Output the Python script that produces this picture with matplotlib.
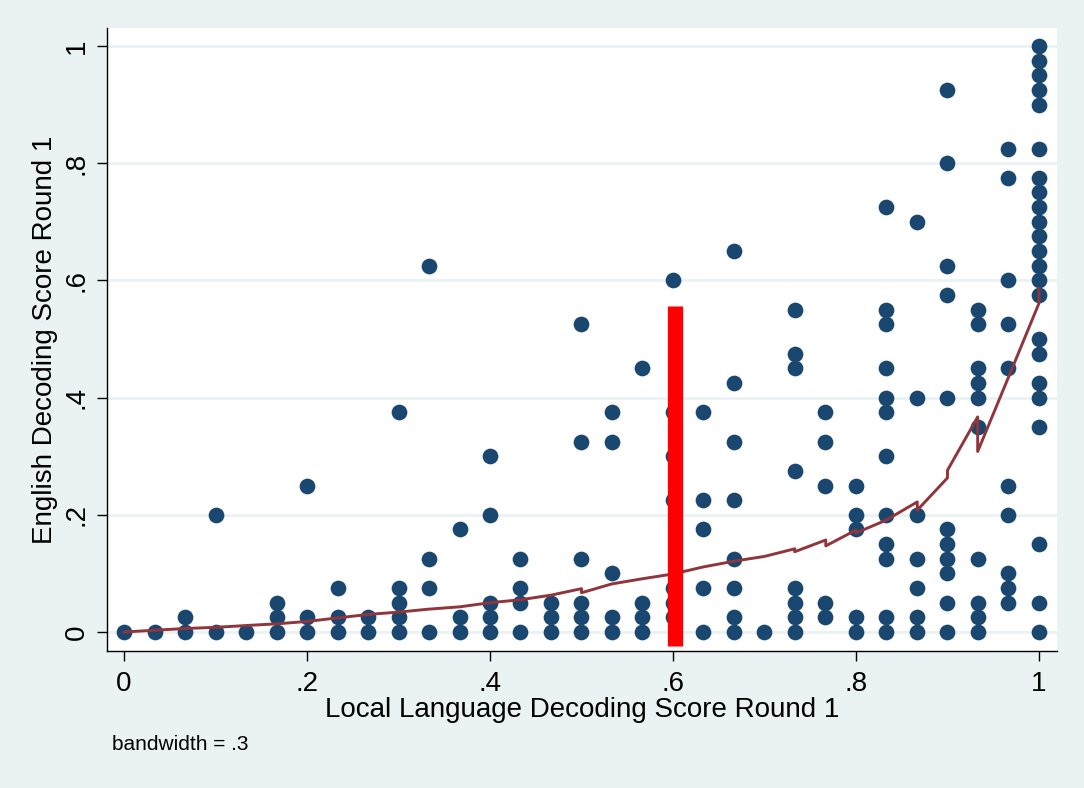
import matplotlib
matplotlib.use("Agg")
import matplotlib.pyplot as plt

plt.rcParams['font.family'] = ['Liberation Sans', 'DejaVu Sans']

# local language score steps (in 30ths) and english scores (in 40ths) per step
local_steps = list(range(31))
english_40ths = [
    [0], [0], [0, 1], [0, 8], [0], [0, 1, 2], [0, 1, 10], [0, 1, 3], [0, 1],
    [0, 1, 2, 3, 15], [0, 3, 5, 25], [0, 1, 7], [0, 1, 2, 8, 12], [0, 2, 3, 5],
    [0, 1, 2], [0, 1, 2, 5, 13, 21], [0, 1, 4, 13, 15], [0, 1, 2, 18],
    [1, 2, 3, 9, 12, 15, 24], [0, 3, 7, 9, 15], [0, 1, 3, 5, 9, 13, 17, 26],
    [0], [0, 1, 2, 3, 11, 18, 19, 22], [1, 2, 10, 13, 15], [0, 1, 7, 8, 10],
    [0, 1, 5, 6, 8, 12, 15, 16, 18, 21, 22, 29], [0, 1, 3, 5, 8, 16, 28],
    [0, 2, 4, 5, 6, 7, 16, 23, 25, 32, 37], [0, 1, 2, 5, 14, 16, 17, 18, 21, 22],
    [2, 3, 4, 8, 10, 18, 21, 24, 31, 33],
    [0, 2, 6, 14, 16, 17, 19, 20, 23, 24, 25, 26, 27, 28, 29, 30, 31, 33, 36, 37, 38, 39, 40],
]

# lowess fit (bandwidth .3), ties give repeated x
lowess_x = [0, .033, .067, .1, .133, .167, .2, .233, .267, .3, .333, .367, .4, .433,
            .467, .5, .5, .533, .567, .6, .633, .667, .7, .733, .733, .767, .767,
            .8, .8, .833, .867, .867, .9, .9, .933, .933, .967, 1, 1]
lowess_y = [0, .003, .006, .008, .011, .014, .018, .024, .03, .034, .039, .043, .05,
            .055, .063, .074, .067, .082, .091, .099, .111, .121, .129, .142, .137,
            .157, .147, .174, .169, .191, .222, .208, .263, .276, .367, .308, .436,
            .561, .586]

cutoff_x = 0.602
cutoff_top = 0.557

ticks = [0, .2, .4, .6, .8, 1]
tick_labels = ['0', '.2', '.4', '.6', '.8', '1']

xs, ys = [], []
for k, col in zip(local_steps, english_40ths):
    for v in col:
        xs.append(k / 30)
        ys.append(v / 40)

bg = '#eaf2f3'
fig = plt.figure(figsize=(10.84, 7.88), dpi=100, facecolor=bg)
ax = fig.add_axes([107/1084, 1 - 651/788, 950/1084, 623/788])
ax.set_facecolor('white')

ax.scatter(xs, ys, s=128, color='#1a476f', linewidths=0, zorder=3)
ax.plot(lowess_x, lowess_y, color='#90353b', lw=2.1, zorder=4)
ax.plot([cutoff_x, cutoff_x], [-0.024, cutoff_top], color='red', lw=11,
        solid_capstyle='butt', zorder=5)

ax.set_xlim(-0.0186, 1.0197)
ax.set_ylim(-0.0324, 1.0307)
ax.set_xticks(ticks)
ax.set_xticklabels(tick_labels)
ax.set_yticks(ticks)
ax.set_yticklabels(tick_labels, rotation=90, va='center')
ax.grid(axis='y', color=bg, lw=2)
ax.set_axisbelow(True)
for s in ['top', 'right']:
    ax.spines[s].set_visible(False)
ax.spines['left'].set_linewidth(1)
ax.spines['bottom'].set_linewidth(1)
ax.tick_params(length=7.5, width=1, labelsize=20, pad=7)
ax.tick_params(axis='y', pad=5)

ax.set_xlabel('Local Language Decoding Score Round 1', fontsize=20, labelpad=0)
ax.set_ylabel('English Decoding Score Round 1', fontsize=20, labelpad=4)
fig.text(112/1084, 1 - 745/788, 'bandwidth = .3', fontsize=15, va='center')

fig.savefig('out.png', dpi=100, facecolor=bg)
